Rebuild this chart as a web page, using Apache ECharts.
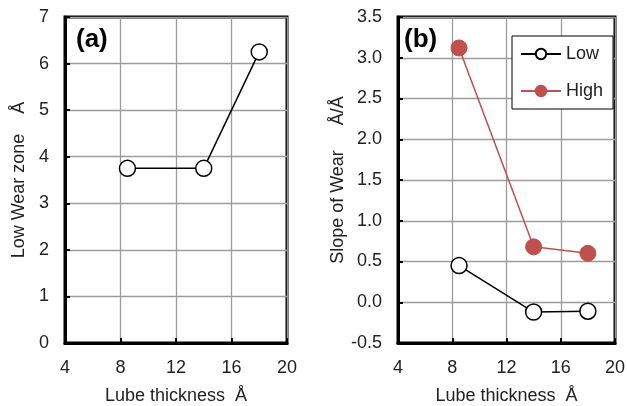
<!DOCTYPE html>
<html><head><meta charset="utf-8">
<script src="https://cdn.jsdelivr.net/npm/echarts@6/dist/echarts.min.js"></script>
<style>html,body{margin:0;padding:0;background:#fff}#c{width:627px;height:406px}</style>
</head><body><div id="c"></div>
<script>
const thicknessA = [8.5, 14, 18];
const lowWearZone = [3.75, 3.75, 6.25];
const thicknessB = [8.5, 14, 18];
const slopeLow = [0.45, -0.12, -0.11];
const slopeHigh = [3.12, 0.68, 0.60];

const FONT = 'Liberation Sans, Arial, sans-serif';
const RED = '#C0504D';
const chart = echarts.init(document.getElementById('c'));
const pair = (xs, ys) => xs.map((x, i) => [x, ys[i]]);
const baseX = (gi) => ({
  type: 'value', gridIndex: gi, min: 4, max: 20, interval: 4,
  name: 'Lube thickness  Å', nameLocation: 'middle', nameGap: 44,
  nameTextStyle: {fontFamily: FONT, fontSize: 18, color: '#222'},
  axisLine: {show: true, onZero: false, lineStyle: {color: '#000', width: 3}},
  axisTick: {show: true, inside: true, length: 5, lineStyle: {color: '#000', width: 2}},
  axisLabel: {fontFamily: FONT, fontSize: 18, color: '#222', margin: 16},
  splitLine: {show: true, lineStyle: {color: '#9c9c9c', width: 1.3}}
});
const baseY = (gi, min, max, iv, name, gap, fmt) => ({
  type: 'value', gridIndex: gi, min: min, max: max, interval: iv,
  name: name, nameLocation: 'middle', nameGap: gap, nameRotate: 90,
  nameTextStyle: {fontFamily: FONT, fontSize: 18, color: '#222'},
  axisLine: {show: true, onZero: false, lineStyle: {color: '#000', width: 3}},
  axisTick: {show: true, inside: true, length: 5, lineStyle: {color: '#000', width: 2}},
  axisLabel: {fontFamily: FONT, fontSize: 18, color: '#222', margin: 16, formatter: fmt},
  splitLine: {show: true, lineStyle: {color: '#9c9c9c', width: 1.3}}
});
chart.setOption({
  animation: false,
  backgroundColor: '#fff',
  grid: [
    {left: 65, top: 17, width: 222, height: 326, outerBoundsMode: 'none', containLabel: false, show: true, borderColor: '#000', borderWidth: 3, backgroundColor: 'transparent'},
    {left: 398, top: 17, width: 217, height: 326, outerBoundsMode: 'none', containLabel: false, show: true, borderColor: '#000', borderWidth: 3, backgroundColor: 'transparent'}
  ],
  xAxis: [baseX(0), baseX(1)],
  yAxis: [
    baseY(0, 0, 7, 1, 'Low Wear zone    Å', 37, v => String(v)),
    baseY(1, -0.5, 3.5, 0.5, 'Slope of Wear     Å/Å', 49, v => v.toFixed(1))
  ],
  legend: {
    orient: 'vertical', left: 512, top: 36, width: 99,
    padding: [9, 10, 9, 8], itemGap: 19, itemWidth: 40, itemHeight: 13,
    borderColor: '#000', borderWidth: 1, backgroundColor: '#fff',
    textStyle: {fontFamily: FONT, fontSize: 18, color: '#222'},
    data: ['Low', 'High']
  },
  graphic: [
    {type: 'text', left: 76, top: 27, style: {text: '(a)', font: 'bold 26px ' + FONT, fill: '#000'}},
    {type: 'text', left: 404, top: 27, style: {text: '(b)', font: 'bold 26px ' + FONT, fill: '#000'}}
  ],
  series: [
    {type: 'line', xAxisIndex: 0, yAxisIndex: 0, data: pair(thicknessA, lowWearZone),
     symbol: 'circle', symbolSize: 16, lineStyle: {color: '#000', width: 1.5},
     itemStyle: {color: '#fff', borderColor: '#000', borderWidth: 1.5}},
    {name: 'Low', type: 'line', xAxisIndex: 1, yAxisIndex: 1, data: pair(thicknessB, slopeLow),
     symbol: 'circle', symbolSize: 16, lineStyle: {color: '#000', width: 1.5},
     itemStyle: {color: '#fff', borderColor: '#000', borderWidth: 1.5}},
    {name: 'High', type: 'line', xAxisIndex: 1, yAxisIndex: 1, data: pair(thicknessB, slopeHigh),
     symbol: 'circle', symbolSize: 16, lineStyle: {color: RED, width: 1.5},
     itemStyle: {color: RED, borderColor: RED, borderWidth: 1}}
  ]
});
</script></body></html>
